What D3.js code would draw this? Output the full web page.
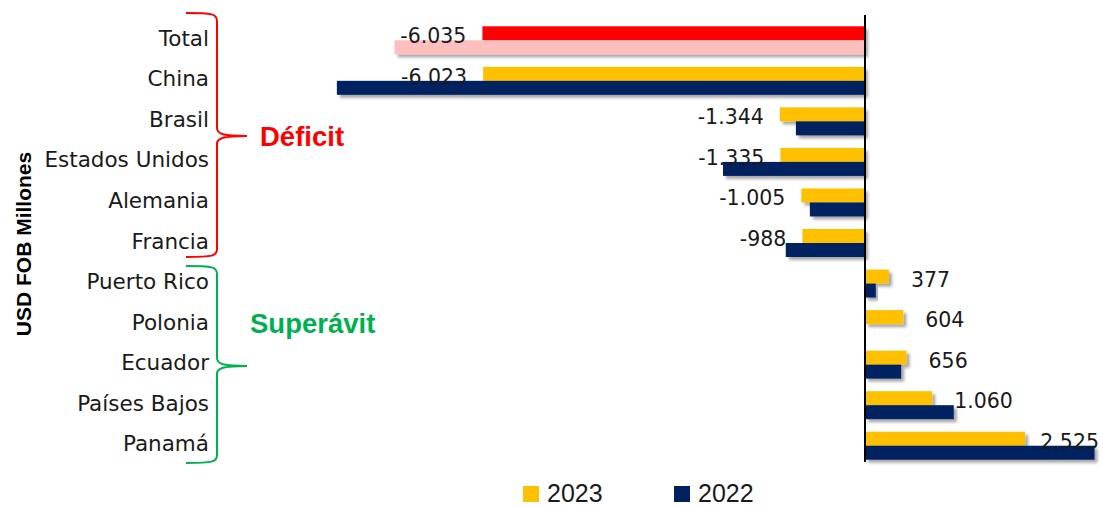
<!DOCTYPE html>
<html>
<head>
<meta charset="utf-8">
<script src="https://cdn.jsdelivr.net/npm/d3@7"></script>
<style>
  body { margin: 0; background: #fff; }
</style>
</head>
<body>
<div id="my_dataviz"></div>
<script>
// data (USD FOB millones)
const categories = ["Total", "China", "Brasil", "Estados Unidos", "Alemania", "Francia",
                    "Puerto Rico", "Polonia", "Ecuador", "Países Bajos", "Panamá"];
const values2023 = [-6035, -6023, -1344, -1335, -1005, -988, 377, 604, 656, 1060, 2525];
const values2022 = [-7420, -8330, -1090, -2240, -870, -1250, 170, 8, 570, 1400, 3620];
const labels2023 = ["-6.035", "-6.023", "-1.344", "-1.335", "-1.005", "-988", "377", "604", "656", "1.060", "2.525"];
const seriesNames = ["2023", "2022"];

const width = 1103, height = 507;

const svg = d3.select("#my_dataviz")
  .append("svg")
    .attr("width", width)
    .attr("height", height);

// soft shadow under the bars
const defs = svg.append("defs");
defs.append("filter")
    .attr("id", "shadow")
    .attr("x", "-10%").attr("y", "-30%")
    .attr("width", "130%").attr("height", "200%")
  .append("feDropShadow")
    .attr("dx", 3).attr("dy", 3)
    .attr("stdDeviation", 1.8)
    .attr("flood-color", "#000")
    .attr("flood-opacity", 0.35);

// scales
const x = d3.scaleLinear()
  .domain([-8000, 3000])
  .range([865 - 8000 * 0.0634, 865 + 3000 * 0.0634]);

const y = d3.scaleBand()
  .domain(categories)
  .range([20, 466])
  .paddingInner(0.31)
  .paddingOuter(0.155);

const ySub = d3.scaleBand()
  .domain(seriesNames)
  .range([0, y.bandwidth()]);

const rows = categories.map((c, i) => ({
  name: c, v23: values2023[i], v22: values2022[i], label: labels2023[i]
}));

function color(d, s) {
  if (d.name === "Total") return s === "2023" ? "#ff0000" : "#ffbfbf";
  return s === "2023" ? "#ffc000" : "#002060";
}

// bars
const groups = svg.selectAll("g.row")
  .data(rows)
  .join("g")
    .attr("class", "row")
    .attr("transform", d => `translate(0, ${y(d.name)})`);

groups.selectAll("rect")
  .data(d => seriesNames.map(s => ({ row: d, s: s, v: s === "2023" ? d.v23 : d.v22 })))
  .join("rect")
    .attr("x", d => x(Math.min(0, d.v)))
    .attr("width", d => Math.abs(x(d.v) - x(0)))
    .attr("y", d => ySub(d.s))
    .attr("height", ySub.bandwidth())
    .attr("fill", d => color(d.row, d.s))
    .attr("filter", "url(#shadow)");

// zero axis
svg.append("line")
    .attr("x1", x(0)).attr("x2", x(0))
    .attr("y1", 15).attr("y2", 462)
    .attr("stroke", "#000")
    .attr("stroke-width", 2);

// value labels (2023)
svg.selectAll("text.val")
  .data(rows)
  .join("text")
    .attr("class", "val")
    .attr("y", d => y(d.name) + ySub("2023") + ySub.bandwidth() / 2 + 3)
    .attr("text-anchor", "start")
    .attr("dominant-baseline", "central")
    .style("font-family", "DejaVu Sans")
    .style("font-size", "20.5px")
    .style("fill", "#1a1a1a")
    .text(d => d.label)
    .attr("x", function(d) {
      const w = this.getComputedTextLength();
      if (d.v23 < 0) return x(d.v23) - 16 - w;
      return Math.min(x(d.v23) + 22, width - 4 - w);
    });

// category labels
svg.selectAll("text.cat")
  .data(categories)
  .join("text")
    .attr("class", "cat")
    .attr("x", 209)
    .attr("y", d => y(d) + y.bandwidth() / 2 - 2)
    .attr("text-anchor", "end")
    .attr("dominant-baseline", "central")
    .style("font-family", "DejaVu Sans")
    .style("font-size", "21.5px")
    .style("fill", "#1a1a1a")
    .text(d => d);

// y title
svg.append("text")
    .attr("transform", "translate(31, 244) rotate(-90)")
    .attr("text-anchor", "middle")
    .style("font-family", "Liberation Sans, Arial")
    .style("font-weight", "bold")
    .style("font-size", "21px")
    .style("fill", "#000")
    .text("USD FOB Millones");

// braces
function brace(top, tip, bottom) {
  const xs = 186, xv = 217, xt = 247;
  return `M${xs},${top} C${xv - 4},${top} ${xv},${top + 1} ${xv},${top + 8}`
    + ` L${xv},${tip - 8} C${xv},${tip - 2} ${xv + 6},${tip} ${xt},${tip}`
    + ` C${xv + 6},${tip} ${xv},${tip + 2} ${xv},${tip + 8}`
    + ` L${xv},${bottom - 8} C${xv},${bottom - 1} ${xv - 4},${bottom} ${xs},${bottom}`;
}

svg.append("path")
    .attr("d", brace(13, 136, 257))
    .attr("fill", "none")
    .attr("stroke", "#ff0000")
    .attr("stroke-width", 2);

svg.append("path")
    .attr("d", brace(266, 366, 463))
    .attr("fill", "none")
    .attr("stroke", "#00b050")
    .attr("stroke-width", 2);

svg.append("text")
    .attr("x", 260).attr("y", 136)
    .attr("dominant-baseline", "central")
    .style("font-family", "Liberation Sans, Arial")
    .style("font-weight", "bold")
    .style("font-size", "27.5px")
    .style("fill", "#ff0000")
    .text("Déficit");

svg.append("text")
    .attr("x", 250).attr("y", 323)
    .attr("dominant-baseline", "central")
    .style("font-family", "Liberation Sans, Arial")
    .style("font-weight", "bold")
    .style("font-size", "27.5px")
    .style("fill", "#00b050")
    .text("Superávit");

// legend
const legendX = [523, 674];
svg.selectAll("rect.leg")
  .data(seriesNames)
  .join("rect")
    .attr("class", "leg")
    .attr("x", (d, i) => legendX[i])
    .attr("y", 486)
    .attr("width", 16).attr("height", 16)
    .attr("fill", d => d === "2023" ? "#ffc000" : "#002060");

svg.selectAll("text.leg")
  .data(seriesNames)
  .join("text")
    .attr("class", "leg")
    .attr("x", (d, i) => legendX[i] + 24)
    .attr("y", 502)
    .style("font-family", "Liberation Sans, Arial")
    .style("font-size", "25px")
    .style("fill", "#1a1a1a")
    .text(d => d);
</script>
</body>
</html>
